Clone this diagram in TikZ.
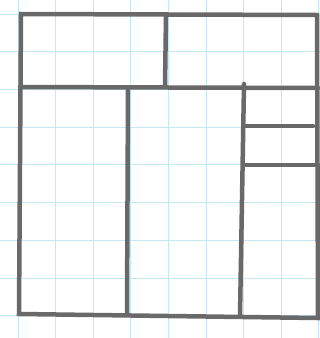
\documentclass[tikz,border=0pt]{standalone}
\begin{document}
\begin{tikzpicture}[x=1pt,y=-1pt,
  gridline/.style={draw={rgb,255:red,196;green,233;blue,244},line width=0.7pt},
  pencil/.style={draw={rgb,255:red,105;green,105;blue,105},line width=4.5pt,line cap=round}]
\useasboundingbox (0,0) rectangle (320,338);
\fill[white] (0,0) rectangle (320,338);
% grid
\foreach \k in {0,...,8} {
  \draw[gridline] ({18+37.6*\k},0) -- ({18+37.6*\k},338);
  \draw[gridline] (0,{14+37.7*\k}) -- (320,{14+37.7*\k});
}
% outline
\coordinate (tl) at (21,14);
\coordinate (tr) at (317,15);
\coordinate (br) at (318,318);
\coordinate (bl) at (19,314);
\draw[pencil] (tl) -- (tr) -- (br) -- (bl) -- cycle;
% middle horizontal
\coordinate (ml) at (20,87);
\coordinate (mr) at (318,88);
\draw[pencil] (ml) -- (mr);
% top divider
\coordinate (td1) at (166,15);
\coordinate (td2) at (165,87);
\draw[pencil] (td1) -- (td2);
% lower verticals
\coordinate (v1a) at (128,88);
\coordinate (v1b) at (127,314);
\draw[pencil] (v1a) -- (v1b);
\coordinate (v2a) at (244,84);
\coordinate (v2b) at (240,316);
\draw[pencil] (v2a) -- (v2b);
% right column shelves
\coordinate (h1a) at (245,126);
\coordinate (h1b) at (313,126);
\draw[pencil] (h1a) -- (h1b);
\coordinate (h2a) at (245,165);
\coordinate (h2b) at (318,165);
\draw[pencil] (h2a) -- (h2b);
\end{tikzpicture}
\end{document}
